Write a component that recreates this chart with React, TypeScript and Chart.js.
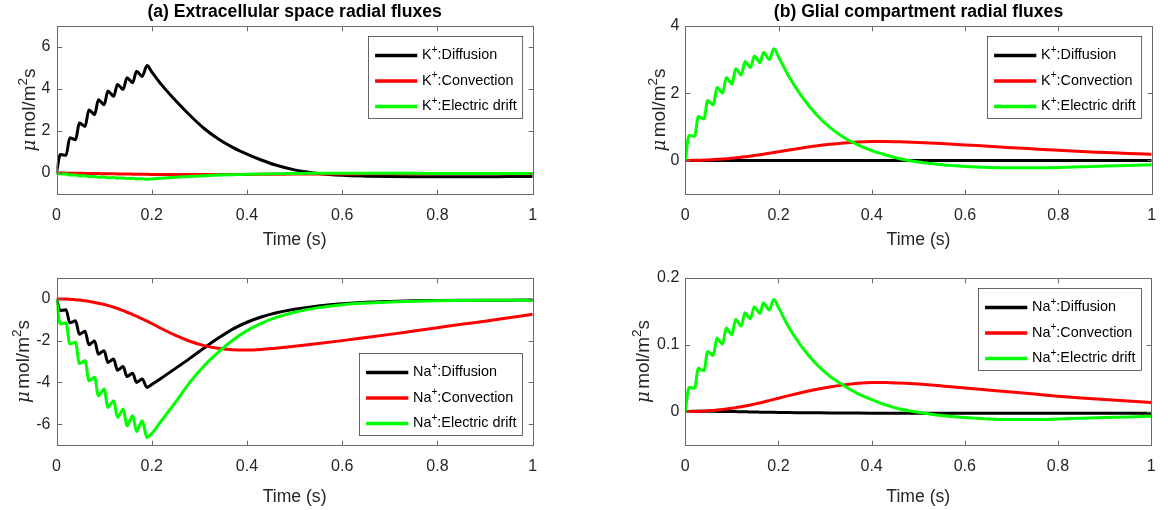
import React, { useEffect, useRef } from "react";
import { Chart, registerables } from "chart.js";

Chart.register(...registerables);

// ---------------- data ----------------
const TIME = [
  0, 0.008, 0.014, 0.02, 0.028, 0.034, 0.04, 0.048, 0.054, 0.06, 0.068, 0.074, 0.08, 0.088, 0.094, 0.1,
  0.108, 0.114, 0.12, 0.128, 0.134, 0.14, 0.148, 0.154, 0.16, 0.168, 0.174, 0.18, 0.19,
  0.2, 0.22, 0.25, 0.28, 0.31, 0.34, 0.37, 0.4, 0.43, 0.46, 0.5, 0.55, 0.6, 0.65, 0.7, 0.75, 0.8, 0.85, 0.9, 0.95, 1.0,
];

const X_TICKS = [0, 0.2, 0.4, 0.6, 0.8, 1];
const X_TICK_LABELS = ["0", "0.2", "0.4", "0.6", "0.8", "1"];

const ECS_K_Y_TICKS = [0, 2, 4, 6];
const ECS_K_Y_LABELS = ["0", "2", "4", "6"];
const GLIA_K_Y_TICKS = [0, 2, 4];
const GLIA_K_Y_LABELS = ["0", "2", "4"];
const ECS_NA_Y_TICKS = [-6, -4, -2, 0];
const ECS_NA_Y_LABELS = ["-6", "-4", "-2", "0"];
const GLIA_NA_Y_TICKS = [0, 0.1, 0.2];
const GLIA_NA_Y_LABELS = ["0", "0.1", "0.2"];

const TITLES = ["(a) Extracellular space radial fluxes", "(b) Glial compartment radial fluxes"];
const X_TITLE = "Time (s)";
// y label pieces: "μ" + "mol/m" + superscript "2" + "s"
const Y_TITLE_PARTS = ["\u03bc", "mol/m", "2", "s"];
const IONS = ["K", "Na"];
const ION_CHARGE = "+";
const MECHANISMS = ["Diffusion", "Convection", "Electric drift"];
const COLORS = ["#000000", "#ff0000", "#00ff00"];

// (a) extracellular space, K+
const ECS_K_DIFFUSION = [
  0, 0.88, 0.86, 0.84, 1.68, 1.63, 1.58, 2.38, 2.3, 2.22, 3.0, 2.9, 2.78, 3.49, 3.37, 3.25,
  3.9, 3.78, 3.65, 4.22, 4.1, 3.98, 4.54, 4.42, 4.3, 4.85, 4.72, 4.6, 5.12,
  4.82, 4.22, 3.45, 2.75, 2.12, 1.62, 1.22, 0.9, 0.62, 0.38, 0.15, -0.02, -0.11, -0.15, -0.17, -0.18, -0.18, -0.18, -0.18, -0.17, -0.17,
];
const ECS_K_CONVECTION = [
  0, -0.003, -0.005, -0.006, -0.009, -0.011, -0.012, -0.015, -0.017, -0.019, -0.022, -0.024, -0.026, -0.029, -0.031, -0.033,
  -0.036, -0.038, -0.04, -0.043, -0.045, -0.047, -0.05, -0.052, -0.054, -0.057, -0.059, -0.061, -0.064,
  -0.066, -0.07, -0.074, -0.076, -0.076, -0.074, -0.07, -0.066, -0.062, -0.058, -0.053, -0.048, -0.044, -0.041, -0.039, -0.037, -0.036, -0.035, -0.034, -0.033, -0.032,
];
const ECS_K_DRIFT = [
  0, -0.05, -0.05, -0.05, -0.1, -0.095, -0.093, -0.14, -0.135, -0.13, -0.175, -0.17, -0.163, -0.205, -0.198, -0.19,
  -0.228, -0.221, -0.214, -0.248, -0.241, -0.233, -0.266, -0.259, -0.252, -0.284, -0.277, -0.27, -0.3,
  -0.285, -0.25, -0.205, -0.165, -0.13, -0.1, -0.078, -0.06, -0.045, -0.034, -0.024, -0.016, -0.012, -0.012, -0.014, -0.016, -0.018, -0.02, -0.022, -0.023, -0.024,
];

// (b) glial compartment, K+
const GLIA_K_DIFFUSION = [
  0, 0, 0, 0, 0, 0, 0, 0, 0, 0, 0, 0, 0, 0, 0, 0,
  0, 0, 0, 0, 0, 0, 0, 0, 0, 0, 0, 0, 0,
  0, 0, 0, 0, 0, 0, 0, 0, 0, 0, 0, 0, 0, 0, 0, 0, 0, 0, 0, 0, 0,
];
const GLIA_K_CONVECTION = [
  0, 0.0004, 0.0013, 0.0026, 0.005, 0.0076, 0.0106, 0.015, 0.019, 0.024, 0.031, 0.036, 0.042, 0.051, 0.058, 0.066,
  0.077, 0.086, 0.095, 0.108, 0.118, 0.129, 0.145, 0.157, 0.169, 0.186, 0.2, 0.214, 0.238,
  0.26, 0.305, 0.37, 0.43, 0.48, 0.52, 0.55, 0.565, 0.565, 0.555, 0.535, 0.5, 0.46, 0.42, 0.38, 0.34, 0.3, 0.265, 0.235, 0.205, 0.18,
];
const GLIA_K_DRIFT = [
  0, 0.74, 0.73, 0.72, 1.31, 1.27, 1.23, 1.78, 1.72, 1.65, 2.17, 2.09, 2.0, 2.47, 2.37, 2.27,
  2.73, 2.64, 2.54, 2.94, 2.85, 2.76, 3.11, 3.01, 2.91, 3.22, 3.11, 3.0, 3.32,
  3.08, 2.55, 1.9, 1.38, 0.98, 0.68, 0.46, 0.29, 0.16, 0.05, -0.05, -0.13, -0.18, -0.21, -0.22, -0.22, -0.21, -0.19, -0.17, -0.15, -0.13,
];

// (a) extracellular space, Na+
const ECS_NA_DIFFUSION = [
  0, -0.56, -0.54, -0.52, -1.15, -1.1, -1.05, -1.7, -1.62, -1.55, -2.2, -2.1, -2.02, -2.65, -2.56, -2.48,
  -3.05, -2.96, -2.88, -3.42, -3.33, -3.24, -3.72, -3.64, -3.56, -4.0, -3.92, -3.84, -4.24,
  -4.1, -3.8, -3.33, -2.85, -2.35, -1.88, -1.45, -1.12, -0.87, -0.68, -0.5, -0.34, -0.23, -0.16, -0.12, -0.09, -0.08, -0.07, -0.06, -0.06, -0.05,
];
const ECS_NA_CONVECTION = [
  0, -0.002, -0.005, -0.01, -0.02, -0.03, -0.04, -0.058, -0.073, -0.09, -0.12, -0.145, -0.17, -0.21, -0.24, -0.27,
  -0.32, -0.36, -0.4, -0.46, -0.51, -0.56, -0.64, -0.69, -0.75, -0.83, -0.9, -0.96, -1.07,
  -1.18, -1.42, -1.75, -2.03, -2.24, -2.37, -2.44, -2.45, -2.42, -2.36, -2.27, -2.14, -2.0, -1.85, -1.7, -1.54, -1.38, -1.22, -1.07, -0.9, -0.74,
];
const ECS_NA_DRIFT = [
  0, -1.2, -1.17, -1.15, -2.16, -2.12, -2.08, -3.1, -3.03, -2.96, -3.92, -3.84, -3.76, -4.64, -4.48, -4.32,
  -5.2, -5.04, -4.88, -5.68, -5.48, -5.28, -6.08, -5.84, -5.6, -6.35, -6.1, -5.84, -6.64,
  -6.45, -5.85, -4.95, -4.0, -3.2, -2.55, -1.98, -1.52, -1.17, -0.9, -0.64, -0.42, -0.28, -0.2, -0.15, -0.11, -0.09, -0.08, -0.07, -0.06, -0.06,
];

// (b) glial compartment, Na+
const GLIA_NA_DIFFUSION = [
  0, 0.0003, 0.0004, 0.0004, 0.0005, 0.0005, 0.0005, 0.0005, 0.0004, 0.0004, 0.0003, 0.0003, 0.0002, 0.0001, 0.0001, 0,
  0, -0.0001, -0.0002, -0.0003, -0.0004, -0.0005, -0.0006, -0.0007, -0.0008, -0.0009, -0.001, -0.001, -0.0011,
  -0.0012, -0.0014, -0.0016, -0.0018, -0.002, -0.0021, -0.0022, -0.0023, -0.0024, -0.0024, -0.0025, -0.0025, -0.0025, -0.0025, -0.0025, -0.0025, -0.0025, -0.0024, -0.0024, -0.0024, -0.0023,
];
const GLIA_NA_CONVECTION = [
  0, 0.00003, 0.0001, 0.0002, 0.0004, 0.0006, 0.0008, 0.0012, 0.0015, 0.0018, 0.0024, 0.0028, 0.0032, 0.0039, 0.0045, 0.0051,
  0.0059, 0.0066, 0.0073, 0.0083, 0.0091, 0.0099, 0.0112, 0.0121, 0.013, 0.0143, 0.0154, 0.0165, 0.0183,
  0.02, 0.0235, 0.0285, 0.0331, 0.0369, 0.04, 0.0423, 0.0435, 0.0435, 0.0427, 0.0412, 0.0385, 0.0354, 0.0323, 0.0292, 0.0262, 0.0231, 0.0204, 0.0181, 0.0158, 0.0138,
];
const GLIA_NA_DRIFT = [
  0, 0.036, 0.0355, 0.035, 0.065, 0.063, 0.061, 0.09, 0.087, 0.084, 0.11, 0.105, 0.101, 0.125, 0.12, 0.115,
  0.138, 0.133, 0.128, 0.148, 0.143, 0.139, 0.157, 0.152, 0.147, 0.163, 0.157, 0.152, 0.168,
  0.156, 0.129, 0.097, 0.072, 0.053, 0.039, 0.027, 0.018, 0.01, 0.004, -0.001, -0.006, -0.009, -0.011, -0.012, -0.012, -0.011, -0.01, -0.009, -0.008, -0.007,
];

// ---------------- styling ----------------
const FONT = "'Liberation Sans', Arial, Helvetica, sans-serif";
const TEXT_COLOR = "#262626";
const AXIS_COLOR = "#6a6a6a";
const TICK_FONT = 16;
const LABEL_FONT = 17.6;
const Y_LABEL_FONT = 19;
const LEGEND_FONT = 14.4;

type Panel = {
  id: string;
  left: number;
  top: number;
  w: number;
  h: number;
  title: string | null;
  pad: { left: number; right: number; top: number; bottom: number };
  yW: number;
  yTitleX: number;
  xH: number;
  xTickPad: number;
  yMin: number;
  yMax: number;
  yTicks: number[];
  yLabels: string[];
  series: number[][];
  ion: string;
  legendPos: "ne" | "se";
};

const PANELS: Panel[] = [
  {
    id: "ecsK", left: 0, top: 0, w: 584, h: 255, title: TITLES[0],
    pad: { left: 17.4, right: 51.3, top: 26, bottom: 3.9 },
    yW: 39.1, yTitleX: 28, xH: 57.1, xTickPad: 11.9, yMin: -1, yMax: 7,
    yTicks: ECS_K_Y_TICKS, yLabels: ECS_K_Y_LABELS,
    series: [ECS_K_DIFFUSION, ECS_K_CONVECTION, ECS_K_DRIFT], ion: IONS[0], legendPos: "ne",
  },
  {
    id: "gliaK", left: 584, top: 0, w: 584, h: 255, title: TITLES[1],
    pad: { left: 64.2, right: 6.3, top: 26, bottom: 3.9 },
    yW: 37.1, yTitleX: 74.8, xH: 57.1, xTickPad: 11.9, yMin: -1, yMax: 4,
    yTicks: GLIA_K_Y_TICKS, yLabels: GLIA_K_Y_LABELS,
    series: [GLIA_K_DIFFUSION, GLIA_K_CONVECTION, GLIA_K_DRIFT], ion: IONS[0], legendPos: "ne",
  },
  {
    id: "ecsNa", left: 0, top: 255, w: 584, h: 255, title: null,
    pad: { left: 11.9, right: 51.3, top: 23, bottom: 2.4 },
    yW: 44.6, yTitleX: 22.5, xH: 62.6, xTickPad: 12.4, yMin: -7, yMax: 1,
    yTicks: ECS_NA_Y_TICKS, yLabels: ECS_NA_Y_LABELS,
    series: [ECS_NA_DIFFUSION, ECS_NA_CONVECTION, ECS_NA_DRIFT], ion: IONS[1], legendPos: "se",
  },
  {
    id: "gliaNa", left: 584, top: 255, w: 584, h: 255, title: null,
    pad: { left: 48.2, right: 6.3, top: 23, bottom: 2.4 },
    yW: 53.1, yTitleX: 58.8, xH: 62.6, xTickPad: 12.4, yMin: -0.05, yMax: 0.2,
    yTicks: GLIA_NA_Y_TICKS, yLabels: GLIA_NA_Y_LABELS,
    series: [GLIA_NA_DIFFUSION, GLIA_NA_CONVECTION, GLIA_NA_DRIFT], ion: IONS[1], legendPos: "ne",
  },
];

function drawLegend(ctx: CanvasRenderingContext2D, area: any, ion: string, pos: "ne" | "se") {
  const supSize = 10;
  ctx.font = `${LEGEND_FONT}px ${FONT}`;
  const ionW = ctx.measureText(ion).width;
  ctx.font = `${supSize}px ${FONT}`;
  const supW = ctx.measureText(ION_CHARGE).width;
  ctx.font = `${LEGEND_FONT}px ${FONT}`;
  const textW = Math.max(...MECHANISMS.map((m) => ionW + supW + ctx.measureText(":" + m).width));
  const lineX0 = 6.6;
  const lineX1 = 48.8;
  const textX = 53.6;
  const boxW = textX + textW + 6;
  const boxH = 82;
  const x = Math.round(area.right - 10.5 - boxW) + 0.5;
  const y = Math.round(pos === "ne" ? area.top + 10 : area.bottom - 10 - boxH) + 0.5;
  ctx.fillStyle = "#ffffff";
  ctx.fillRect(x, y, boxW, boxH);
  ctx.strokeStyle = "#262626";
  ctx.lineWidth = 0.7;
  ctx.strokeRect(x, y, boxW, boxH);
  const rows = [19, 44.5, 70];
  MECHANISMS.forEach((m, i) => {
    const ry = y + rows[i];
    ctx.strokeStyle = COLORS[i];
    ctx.lineWidth = 3.5;
    ctx.beginPath();
    ctx.moveTo(x + lineX0, ry);
    ctx.lineTo(x + lineX1, ry);
    ctx.stroke();
    ctx.fillStyle = "#000000";
    ctx.textBaseline = "middle";
    ctx.textAlign = "left";
    ctx.font = `${LEGEND_FONT}px ${FONT}`;
    ctx.fillText(ion, x + textX, ry);
    ctx.font = `${supSize}px ${FONT}`;
    ctx.fillText(ION_CHARGE, x + textX + ionW, ry - 5.5);
    ctx.font = `${LEGEND_FONT}px ${FONT}`;
    ctx.fillText(":" + m, x + textX + ionW + supW, ry);
  });
}

function drawYTitle(ctx: CanvasRenderingContext2D, area: any, xCenter: number) {
  const muFont = `italic 18px 'DejaVu Serif', 'Liberation Serif', serif`;
  const mainFont = `${Y_LABEL_FONT}px ${FONT}`;
  const supFont = `13.5px ${FONT}`;
  const fonts = [muFont, mainFont, supFont, mainFont];
  const gaps = [2.5, 0, 0, 0];
  const widths = Y_TITLE_PARTS.map((p, i) => {
    ctx.font = fonts[i];
    return ctx.measureText(p).width + gaps[i];
  });
  const total = widths.reduce((s, w) => s + w, 0);
  ctx.save();
  ctx.translate(xCenter, (area.top + area.bottom) / 2);
  ctx.rotate(-Math.PI / 2);
  ctx.fillStyle = TEXT_COLOR;
  ctx.textBaseline = "alphabetic";
  ctx.textAlign = "left";
  const baseline = 6.5;
  let cx = -total / 2;
  Y_TITLE_PARTS.forEach((p, i) => {
    ctx.font = fonts[i];
    const dy = i === 2 ? -8 : 0;
    ctx.fillText(p, cx, baseline + dy);
    cx += widths[i];
  });
  ctx.restore();
}

function makeFramePlugin(panel: Panel) {
  return {
    id: "matlabFrame_" + panel.id,
    afterDatasetsDraw(chart: any) {
      const { ctx, chartArea: a, scales } = chart;
      ctx.save();
      const L = Math.round(a.left) + 0.5;
      const R = Math.round(a.right) + 0.5;
      const T = Math.round(a.top) + 0.5;
      const B = Math.round(a.bottom) + 0.5;
      ctx.strokeStyle = AXIS_COLOR;
      ctx.lineWidth = 1;
      const TL = 4.8;
      ctx.beginPath();
      scales.x.ticks.forEach((t: any) => {
        const px = Math.round(scales.x.getPixelForValue(t.value)) + 0.5;
        ctx.moveTo(px, B);
        ctx.lineTo(px, B - TL);
        ctx.moveTo(px, T);
        ctx.lineTo(px, T + TL);
      });
      scales.y.ticks.forEach((t: any) => {
        const py = Math.round(scales.y.getPixelForValue(t.value)) + 0.5;
        ctx.moveTo(L, py);
        ctx.lineTo(L + TL, py);
        ctx.moveTo(R, py);
        ctx.lineTo(R - TL, py);
      });
      ctx.stroke();
      ctx.strokeRect(L, T, R - L, B - T);
      drawLegend(ctx, a, panel.ion, panel.legendPos);
      ctx.restore();
    },
    afterDraw(chart: any) {
      const { ctx, chartArea: a } = chart;
      ctx.save();
      if (panel.title) {
        ctx.font = `bold ${LABEL_FONT}px ${FONT}`;
        ctx.fillStyle = "#000000";
        ctx.textAlign = "center";
        ctx.textBaseline = "middle";
        ctx.fillText(panel.title, (a.left + a.right) / 2, 12.5);
      }
      drawYTitle(ctx, a, panel.yTitleX);
      ctx.restore();
    },
  };
}

function PanelChart({ panel }: { panel: Panel }) {
  const ref = useRef<HTMLCanvasElement | null>(null);
  useEffect(() => {
    if (!ref.current) return;
    const datasets = panel.series.map((vals, i) => ({
      label: panel.ion + ION_CHARGE + ":" + MECHANISMS[i],
      data: TIME.map((t, j) => ({ x: t, y: vals[j] })),
      borderColor: COLORS[i],
      backgroundColor: COLORS[i],
      borderWidth: 3,
      pointRadius: 0,
      fill: false,
      cubicInterpolationMode: "monotone" as const,
      order: 2 - i,
    }));
    const chart = new Chart(ref.current, {
      type: "line",
      data: { datasets },
      plugins: [makeFramePlugin(panel)],
      options: {
        animation: false,
        responsive: false,
        maintainAspectRatio: false,
        devicePixelRatio: 1,
        layout: { padding: panel.pad },
        plugins: {
          legend: { display: false },
          tooltip: { enabled: false },
          title: { display: false },
        },
        scales: {
          x: {
            type: "linear",
            position: "bottom",
            min: 0,
            max: 1,
            afterBuildTicks: (s: any) => {
              s.ticks = X_TICKS.map((v) => ({ value: v }));
            },
            afterFit: (s: any) => {
              s.height = panel.xH;
            },
            ticks: {
              autoSkip: false,
              maxRotation: 0,
              padding: panel.xTickPad,
              color: TEXT_COLOR,
              font: { size: TICK_FONT, family: FONT },
              callback: (_v: any, i: number) => X_TICK_LABELS[i],
            },
            grid: { display: false, drawTicks: false },
            border: { display: false },
            title: {
              display: true,
              text: X_TITLE,
              color: TEXT_COLOR,
              font: { size: LABEL_FONT, family: FONT },
              padding: { top: 0, bottom: 0 },
            },
          },
          y: {
            type: "linear",
            position: "left",
            min: panel.yMin,
            max: panel.yMax,
            afterBuildTicks: (s: any) => {
              s.ticks = panel.yTicks.map((v) => ({ value: v }));
            },
            afterFit: (s: any) => {
              s.width = panel.yW;
            },
            ticks: {
              autoSkip: false,
              padding: 6,
              color: TEXT_COLOR,
              font: { size: TICK_FONT, family: FONT },
              callback: (_v: any, i: number) => panel.yLabels[i],
            },
            grid: { display: false, drawTicks: false },
            border: { display: false },
            title: { display: false },
          },
        },
      } as any,
    });
    return () => chart.destroy();
  }, [panel]);
  return (
    <canvas
      ref={ref}
      width={panel.w}
      height={panel.h}
      style={{ position: "absolute", left: panel.left, top: panel.top, width: panel.w, height: panel.h }}
    />
  );
}

export default function App() {
  return (
    <div style={{ position: "absolute", left: 0, top: 0, width: 1168, height: 510, background: "#ffffff" }}>
      {PANELS.map((p) => (
        <PanelChart key={p.id} panel={p} />
      ))}
    </div>
  );
}
